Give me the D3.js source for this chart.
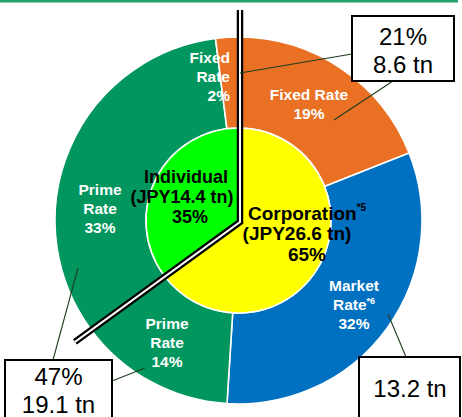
<!DOCTYPE html>
<html><head><meta charset="utf-8">
<script src="https://cdn.jsdelivr.net/npm/d3@7"></script>
<style>body{margin:0;background:#fff}svg{display:block}</style>
</head><body>
<script>
// ---- data ----
const innerCategories = ["Corporation", "Individual"];
const innerValues = [65, 35];
const innerAmounts = ["26.6", "14.4"];
const outerCategories = ["Fixed Rate", "Market Rate", "Prime Rate", "Prime Rate", "Fixed Rate"];
const outerValues = [19, 32, 14, 33, 2];
const outerGroups = ["Corporation", "Corporation", "Corporation", "Individual", "Individual"];
const calloutTexts = [["21%", "8.6 tn"], ["13.2 tn"], ["47%", "19.1 tn"]];

// ---- layout ----
const W = 462, H = 417, cx = 238.5, cy = 220.5, rIn = 92.5, rOut = 183.5;
const innerColor = {"Corporation": "#FFFF00", "Individual": "#00FF00"};
const outerColor = {"Fixed Rate": "#EA7024", "Market Rate": "#0070C0", "Prime Rate": "#00965E"};
const FONT = "'Liberation Sans', Arial, sans-serif";

const svg = d3.select("body").append("svg").attr("width", W).attr("height", H)
  .style("font-family", FONT);

// top green rule
svg.append("line").attr("x1", 0).attr("x2", 458).attr("y1", 1).attr("y2", 1)
  .attr("stroke", "#22A06E").attr("stroke-width", 3);

const g = svg.append("g").attr("transform", `translate(${cx},${cy})`);
const pie = d3.pie().sort(null).value(d => d);

// outer ring
const outerArc = d3.arc().innerRadius(rIn).outerRadius(rOut);
g.selectAll("path.outer").data(pie(outerValues)).join("path")
  .attr("class", "outer")
  .attr("d", outerArc)
  .attr("fill", (d, i) => outerColor[outerCategories[i]])
  .attr("stroke", "#fff").attr("stroke-width", 1.6);

// inner pie
const innerArc = d3.arc().innerRadius(0).outerRadius(rIn);
g.selectAll("path.inner").data(pie(innerValues)).join("path")
  .attr("class", "inner")
  .attr("d", innerArc)
  .attr("fill", (d, i) => innerColor[innerCategories[i]])
  .attr("stroke", "#fff").attr("stroke-width", 1.6);

// double separator line along the inner pie boundaries
const innerPie = pie(innerValues);
const splitAngle = innerPie[0].endAngle;
const topPt = [1.5, 10 - cy];
const vtx = [1.5, 1.5];
const endR = 204;
const endPt = [vtx[0] + endR * Math.sin(splitAngle), vtx[1] - endR * Math.cos(splitAngle)];
const dl = d3.line()([topPt, vtx, endPt]);
g.append("path").attr("d", dl).attr("fill", "none").attr("stroke", "#000")
  .attr("stroke-width", 6.5).attr("stroke-linejoin", "miter");
g.append("path").attr("d", dl).attr("fill", "none").attr("stroke", "#fff")
  .attr("stroke-width", 2).attr("stroke-linejoin", "miter");

// ---- outer labels (white bold) ----
const outerLabelLayout = [
  {x: 309, y: 100, anchor: "middle", lines: [outerCategories[0], outerValues[0] + "%"]},
  {x: 354, y: 291, anchor: "middle", lines: ["Market", "Rate|*6", outerValues[1] + "%"]},
  {x: 167, y: 329, anchor: "middle", lines: ["Prime", "Rate", outerValues[2] + "%"]},
  {x: 100, y: 195, anchor: "middle", lines: ["Prime", "Rate", outerValues[3] + "%"]},
  {x: 230, y: 63, anchor: "end", lines: ["Fixed", "Rate", outerValues[4] + "%"]}
];
outerLabelLayout.forEach(L => {
  L.lines.forEach((ln, k) => {
    const parts = ln.split("|");
    const t = svg.append("text").attr("x", L.x).attr("y", L.y + k * 19)
      .attr("text-anchor", L.anchor).attr("fill", "#fff")
      .attr("font-weight", "bold").attr("font-size", 15.5);
    t.append("tspan").text(parts[0]);
    if (parts[1]) t.append("tspan").attr("font-size", 9).attr("dy", -6).text(parts[1]);
  });
});

// ---- inner labels (black bold) ----
const innerLabelLayout = [
  {lines: [{t: "Corporation|*5", x: 307, y: 220}, {t: `(JPY${innerAmounts[0]} tn)`, x: 297, y: 240}, {t: innerValues[0] + "%", x: 307, y: 261}], size: 19},
  {lines: [{t: "Individual", x: 186, y: 183}, {t: `(JPY${innerAmounts[1]} tn)`, x: 182, y: 203}, {t: innerValues[1] + "%", x: 190, y: 223}], size: 18}
];
innerLabelLayout.forEach(L => {
  L.lines.forEach(ln => {
    const parts = ln.t.split("|");
    const t = svg.append("text").attr("x", ln.x).attr("y", ln.y)
      .attr("text-anchor", "middle").attr("fill", "#000")
      .attr("font-weight", "bold").attr("font-size", L.size);
    t.append("tspan").text(parts[0]);
    if (parts[1]) t.append("tspan").attr("font-size", 10).attr("dy", -9).text(parts[1]);
  });
});

// ---- leader lines ----
const leaders = [
  [[240, 73], [352, 54]],
  [[393, 81], [334, 120]],
  [[388, 314], [406, 357]],
  [[78, 268], [53, 360]],
  [[112, 381], [145, 368]]
];
leaders.forEach(p => svg.append("path").attr("d", d3.line()(p))
  .attr("stroke", "#1E3D1E").attr("stroke-width", 1.1).attr("fill", "none"));

// ---- callout boxes ----
const boxes = [
  {x: 352, y: 16, w: 102, h: 65, cxT: 403, base: 45, texts: calloutTexts[0]},
  {x: 359, y: 357, w: 101, h: 70, cxT: 410, base: 397, texts: calloutTexts[1]},
  {x: 5, y: 360, w: 107, h: 70, cxT: 58.5, base: 385, texts: calloutTexts[2]}
];
boxes.forEach(b => {
  svg.append("rect").attr("x", b.x).attr("y", b.y).attr("width", b.w).attr("height", b.h)
    .attr("fill", "#fff").attr("stroke", "#000").attr("stroke-width", 2);
  b.texts.forEach((t, k) => svg.append("text").attr("x", b.cxT).attr("y", b.base + k * 27.5)
    .attr("text-anchor", "middle").attr("font-size", 24).attr("fill", "#000").text(t));
});
</script>
</body></html>
